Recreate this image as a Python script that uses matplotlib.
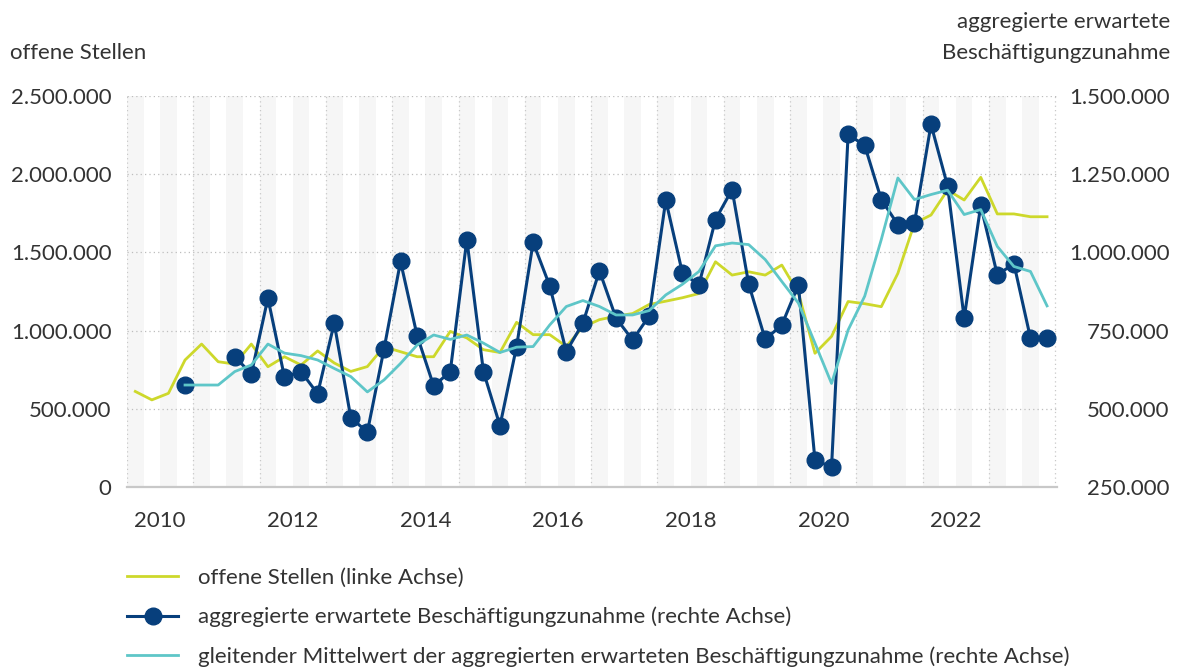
import numpy as np
import matplotlib.pyplot as plt
from matplotlib.lines import Line2D
from matplotlib.ticker import FuncFormatter

plt.rcParams['font.family'] = ['Lato', 'DejaVu Sans']

# quarterly data, 2010Q1 .. 2023Q4
year_labels = [2010, 2012, 2014, 2016, 2018, 2020, 2022]

offene_stellen = [
    611000, 557000, 599000, 812000, 914000, 801000, 786000, 914000,
    769000, 833000, 780000, 870000, 793000, 739000, 770000, 897000,
    865000, 833000, 833000, 995000, 953000, 878000, 860000, 1053000,
    974000, 974000, 899000, 1023000, 1070000, 1092000, 1109000, 1167000,
    1188000, 1210000, 1237000, 1440000, 1355000, 1376000, 1355000, 1419000,
    1240000, 855000, 963000, 1186000, 1172000, 1153000, 1366000, 1686000,
    1739000, 1899000, 1835000, 1980000, 1746000, 1746000, 1728000, 1728000,
]

nan = np.nan
beschaeftigung = [
    nan, nan, nan, 576000, nan, nan, 667000, 611000,
    854000, 601000, 619000, 548000, 774000, 471000, 426000, 690000,
    971000, 734000, 573000, 619000, 1041000, 619000, 446000, 699000,
    1032000, 893000, 683000, 774000, 941000, 790000, 720000, 797000,
    1167000, 935000, 896000, 1105000, 1201000, 899000, 722000, 768000,
    896000, 336000, 314000, 1377000, 1342000, 1169000, 1089000, 1094000,
    1409000, 1212000, 790000, 1150000, 928000, 964000, 726000, 726000,
]

gleitender_mw = [
    nan, nan, nan, 576000, 576000, 576000, 619000, 640000,
    707000, 678000, 670000, 656000, 629000, 603000, 554000, 592000,
    645000, 704000, 736000, 722000, 736000, 710000, 680000, 697000,
    699000, 768000, 827000, 846000, 827000, 800000, 800000, 814000,
    864000, 898000, 939000, 1021000, 1030000, 1025000, 977000, 907000,
    838000, 710000, 581000, 752000, 860000, 1041000, 1238000, 1169000,
    1185000, 1199000, 1121000, 1137000, 1019000, 955000, 939000, 829000,
]

labels = [
    'offene Stellen (linke Achse)',
    'aggregierte erwartete Beschäftigungzunahme (rechte Achse)',
    'gleitender Mittelwert der aggregierten erwarteten Beschäftigungzunahme (rechte Achse)',
]

c_yellow = '#cdd82b'
c_blue = '#073f7c'
c_cyan = '#5ec6c8'
c_text = '#333333'
fs = 16

n = len(offene_stellen)
x = np.arange(n)

W, H = 1182, 668
fig = plt.figure(figsize=(W / 100, H / 100), dpi=100)
ax = fig.add_axes([127 / W, 1 - 487 / H, 930 / W, 391 / H])
ax2 = ax.twinx()

# alternating quarter bands and yearly dotted lines
for i in range(0, n, 2):
    ax.axvspan(i - 0.5, i + 0.5, color='#f6f6f6', lw=0, zorder=0)
for k in range(0, n + 1, 4):
    ax.axvline(k - 0.5, color='#c8c8c8', ls=(0, (1, 2.5)), lw=0.9, zorder=0.5)

ax.plot(x, offene_stellen, color=c_yellow, lw=2, zorder=3)
ax2.plot(x, beschaeftigung, color=c_blue, lw=2.2, marker='o', ms=12, zorder=3)
ax2.plot(x, gleitender_mw, color=c_cyan, lw=2, zorder=4)

fmt = FuncFormatter(lambda v, p: f'{v:,.0f}'.replace(',', '.'))

ax.set_xlim(-0.5, 55.6)
ax.set_ylim(0, 2500000)
ax.set_yticks(np.arange(0, 2500001, 500000))
ax.yaxis.set_major_formatter(fmt)
ax.yaxis.grid(True, ls=(0, (1, 2.5)), color='#bdbdbd', lw=0.9)
ax.set_axisbelow(True)

ax2.set_ylim(250000, 1500000)
ax2.set_yticks(np.arange(250000, 1500001, 250000))
ax2.yaxis.set_major_formatter(fmt)

ax.set_xticks([(y - 2010) * 4 + 1.5 for y in year_labels])
ax.set_xticklabels([str(y) for y in year_labels])

for a in (ax, ax2):
    for s in ('top', 'left', 'right', 'bottom'):
        a.spines[s].set_visible(False)
ax.spines['bottom'].set_visible(True)
ax.spines['bottom'].set_color('#c8c8c8')
ax.spines['bottom'].set_linewidth(1.6)

ax.tick_params(axis='x', length=0, pad=17, labelsize=fs, colors=c_text)
ax.tick_params(axis='y', length=0, pad=11, labelsize=fs, colors=c_text)
ax2.tick_params(axis='y', length=0, pad=81, labelsize=fs, colors=c_text)
plt.setp(ax2.get_yticklabels(), ha='right')

fig.text(10 / W, 1 - 53 / H, 'offene Stellen', ha='left', va='center',
         fontsize=fs, color=c_text)
fig.text(1170 / W, 1 - 22 / H, 'aggregierte erwartete', ha='right', va='center',
         fontsize=fs, color=c_text)
fig.text(1170 / W, 1 - 53 / H, 'Beschäftigungzunahme', ha='right', va='center',
         fontsize=fs, color=c_text)

handles = [
    Line2D([], [], color=c_yellow, lw=2),
    Line2D([], [], color=c_blue, lw=2.2, marker='o', ms=12),
    Line2D([], [], color=c_cyan, lw=2),
]
fig.legend(handles, labels, loc='upper left', bbox_to_anchor=(127 / W, 1 - 568 / H),
           frameon=False, fontsize=fs, handlelength=2.3, handletextpad=0.9,
           labelspacing=0.85, borderpad=0, borderaxespad=0, labelcolor=c_text)

fig.savefig('out.png', dpi=100)
